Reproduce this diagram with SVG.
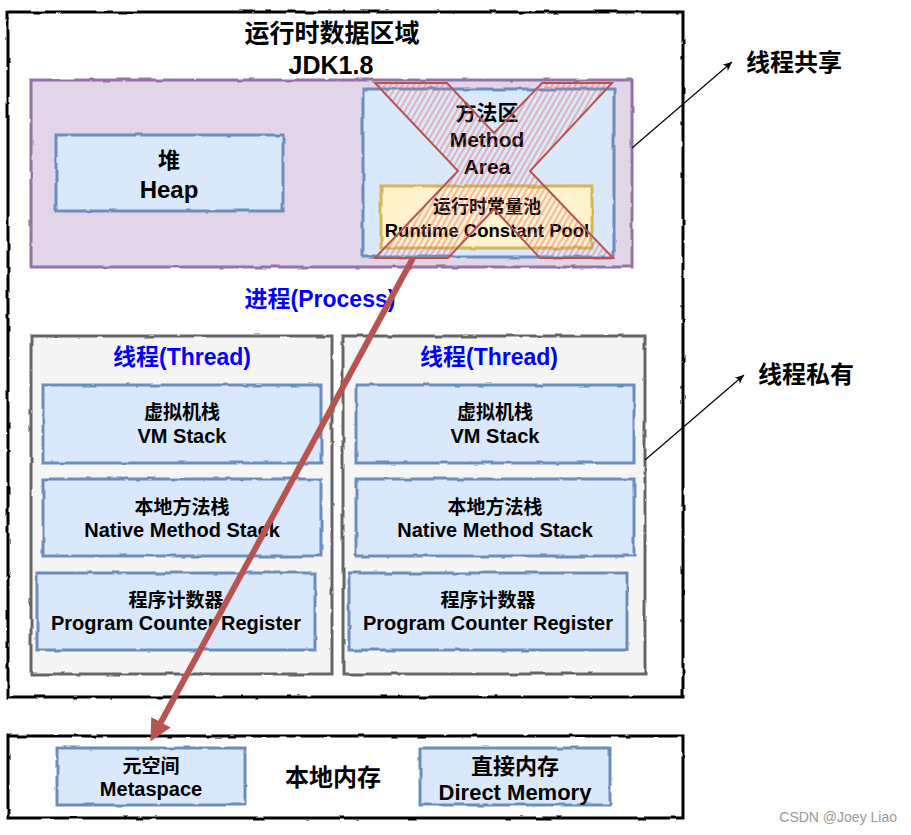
<svg xmlns="http://www.w3.org/2000/svg" width="911" height="835" viewBox="0 0 911 835">
<defs>
  <filter id="sketch" x="-5%" y="-5%" width="110%" height="110%">
    <feTurbulence type="fractalNoise" baseFrequency="0.06" numOctaves="2" seed="3" result="n"/>
    <feDisplacementMap in="SourceGraphic" in2="n" scale="3" xChannelSelector="R" yChannelSelector="G"/>
  </filter>
  <pattern id="hatch" width="5" height="5" patternUnits="userSpaceOnUse" patternTransform="rotate(30)">
    <line x1="1" y1="0" x2="1" y2="5" stroke="#ea6b66" stroke-width="1.6" stroke-opacity="0.55"/>
  </pattern>
  <marker id="arrowBlack" markerWidth="10" markerHeight="10" refX="9" refY="5" orient="auto" markerUnits="userSpaceOnUse">
    <path d="M0,1 L9,5 L0,9 L2.5,5 Z" fill="#000"/>
  </marker>
  <marker id="arrowRed" markerWidth="26" markerHeight="26" refX="2" refY="13" orient="auto" markerUnits="userSpaceOnUse">
    <path d="M0,2 L22,13 L0,24 Z" fill="#b85450"/>
  </marker>
  <style>
    .outer{fill:#fff;stroke:#000;stroke-width:3}
    .shared{fill:#e1d5e7;stroke:#9673a6;stroke-width:3}
    .blue{fill:#dae8fc;stroke:#6c8ebf;stroke-width:3}
    .yellow{fill:#fff2cc;stroke:#d6b656;stroke-width:3}
    .thread{fill:#f5f5f5;stroke:#666;stroke-width:3}
    .sk{filter:url(#sketch)}
    text{font-family:"Liberation Sans","Noto Sans CJK SC",sans-serif;text-anchor:middle;dominant-baseline:central;fill:#000}
    .b{font-weight:bold}
    .proc{fill:#0000ff;font-weight:bold;font-size:23px}
    .t20{font-size:20px}
    .t19{font-size:19px}
    .conn{fill:none;stroke:#000;stroke-width:1.2}
  </style>
</defs>

<g id="runtime-data-area">
  <rect class="outer sk" x="8" y="12" width="675" height="685"/>
  <text class="b" x="332" y="33" font-size="25">运行时数据区域</text>
  <text class="b" x="331" y="65" font-size="25">JDK1.8</text>
</g>

<g id="shared-area">
  <rect class="shared sk" x="31" y="80" width="601" height="187"/>
</g>

<g id="heap">
  <rect class="blue sk" x="56" y="135" width="227" height="76"/>
  <text class="b" x="169" y="160" font-size="22">堆</text>
  <text class="b" x="169" y="189" font-size="24">Heap</text>
</g>

<g id="method-area">
  <rect class="blue sk" x="363" y="89" width="251" height="168"/>
  <text class="b" x="487" y="112" font-size="21">方法区</text>
  <text class="b" x="487" y="139" font-size="21">Method</text>
  <text class="b" x="487" y="166" font-size="21">Area</text>
</g>

<g id="runtime-constant-pool">
  <rect class="yellow sk" x="381" y="186" width="211" height="62"/>
  <text class="b" x="487" y="207" font-size="18">运行时常量池</text>
  <text class="b" x="487" y="230" font-size="18.5">Runtime Constant Pool</text>
</g>

<g id="removed-cross">
  <polygon points="375,83 447,83 494,133 542,83 612,83 530,171 613,258 540,258 494,209 448,258 375,258 458,171" fill="url(#hatch)" stroke="#b85450" stroke-width="2" stroke-linejoin="miter"/>
</g>

<g id="process-label">
  <text class="proc" x="320" y="299">进程(Process)</text>
</g>

<g id="thread-1">
  <rect class="thread sk" x="31" y="336" width="301" height="338"/>
  <text class="proc" x="182" y="357">线程(Thread)</text>
</g>
<g id="vm-stack-1">
  <rect class="blue sk" x="43" y="385" width="278" height="78"/>
  <text class="b t19" x="182" y="412">虚拟机栈</text>
  <text class="b t20" x="182" y="436">VM Stack</text>
</g>
<g id="native-stack-1">
  <rect class="blue sk" x="43" y="479" width="278" height="77"/>
  <text class="b t19" x="182" y="507">本地方法栈</text>
  <text class="b t20" x="182" y="530">Native Method Stack</text>
</g>
<g id="pc-register-1">
  <rect class="blue sk" x="37" y="573" width="278" height="77"/>
  <text class="b t19" x="176" y="600">程序计数器</text>
  <text class="b t20" x="176" y="623">Program Counter Register</text>
</g>

<g id="thread-2">
  <rect class="thread sk" x="343" y="336" width="302" height="338"/>
  <text class="proc" x="489" y="357">线程(Thread)</text>
</g>
<g id="vm-stack-2">
  <rect class="blue sk" x="356" y="385" width="278" height="78"/>
  <text class="b t19" x="495" y="412">虚拟机栈</text>
  <text class="b t20" x="495" y="436">VM Stack</text>
</g>
<g id="native-stack-2">
  <rect class="blue sk" x="356" y="479" width="278" height="77"/>
  <text class="b t19" x="495" y="507">本地方法栈</text>
  <text class="b t20" x="495" y="530">Native Method Stack</text>
</g>
<g id="pc-register-2">
  <rect class="blue sk" x="349" y="573" width="278" height="77"/>
  <text class="b t19" x="488" y="600">程序计数器</text>
  <text class="b t20" x="488" y="623">Program Counter Register</text>
</g>

<g id="native-memory">
  <rect class="outer sk" x="8" y="736" width="675" height="82"/>
  <text class="b" x="333" y="777" font-size="24">本地内存</text>
</g>
<g id="metaspace">
  <rect class="blue sk" x="57" y="748" width="188" height="57"/>
  <text class="b t19" x="151" y="766">元空间</text>
  <text class="b t20" x="151" y="789">Metaspace</text>
</g>
<g id="direct-memory">
  <rect class="blue sk" x="420" y="748" width="190" height="57"/>
  <text class="b" x="515" y="766" font-size="22">直接内存</text>
  <text class="b" x="515" y="792" font-size="22">Direct Memory</text>
</g>

<g id="label-shared">
  <text class="b" x="794" y="62" font-size="24">线程共享</text>
</g>
<g id="label-private">
  <text class="b" x="806" y="374" font-size="24">线程私有</text>
</g>

<g id="connectors">
  <path class="conn" d="M632,148 L732,62" marker-end="url(#arrowBlack)"/>
  <path class="conn" d="M645,460 L744,375" marker-end="url(#arrowBlack)"/>
  <path d="M413,258 L160,724" fill="none" stroke="#b85450" stroke-width="6" marker-end="url(#arrowRed)"/>
</g>

<text x="897" y="817" font-size="14" style="text-anchor:end;fill:#999">CSDN @Joey Liao</text>
</svg>
